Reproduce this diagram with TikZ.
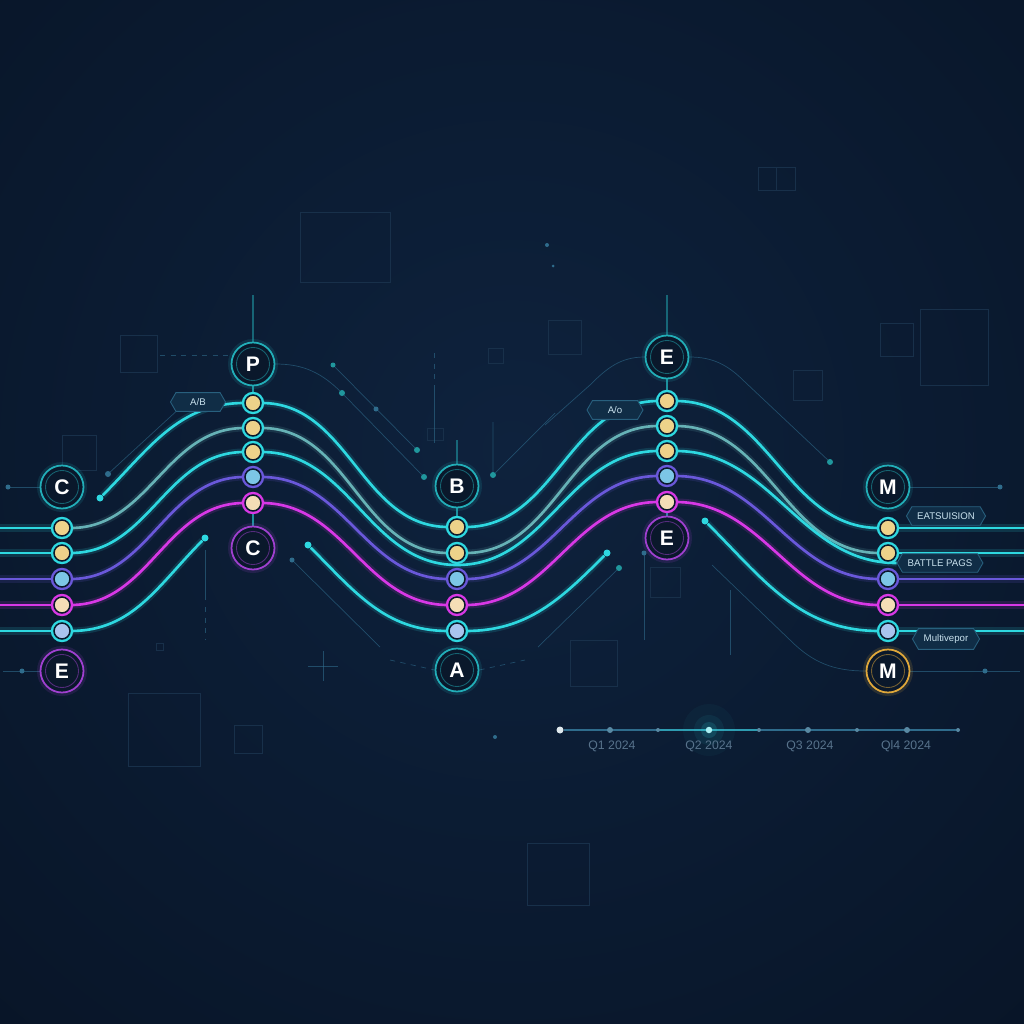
\documentclass[tikz,border=0pt]{standalone}
\usepackage{fontspec}
\setmainfont{Liberation Sans}
\usetikzlibrary{shapes.symbols}

\definecolor{bgin}{HTML}{0E223D}
\definecolor{bgmid}{HTML}{09172B}
\definecolor{bgout}{HTML}{040811}
\definecolor{hubfill}{HTML}{0A182B}
\definecolor{wcyan}{HTML}{2ED8E0}
\definecolor{hcyan}{HTML}{22AEB8}
\definecolor{wteal}{HTML}{66B2B6}
\definecolor{wpurple}{HTML}{6A58DA}
\definecolor{wpink}{HTML}{D838E6}
\definecolor{hpurple}{HTML}{A040D0}
\definecolor{hgold}{HTML}{E0A83A}
\definecolor{syellow}{HTML}{EDD28A}
\definecolor{sblue}{HTML}{7CC6E6}
\definecolor{speach}{HTML}{F4DDB6}
\definecolor{spale}{HTML}{A9C4EE}
\definecolor{deco}{HTML}{18304A}
\definecolor{decoline}{HTML}{2F6C8C}
\definecolor{tagfill}{HTML}{102D46}
\definecolor{tagline}{HTML}{28607E}
\definecolor{tagtext}{HTML}{C9E2EE}
\definecolor{qtext}{HTML}{58738C}

\pgfdeclareradialshading{bgshade}{\pgfpoint{0bp}{0bp}}{color(0bp)=(bgin); color(28bp)=(bgmid); color(65bp)=(bgout)}

\pgfdeclarelayer{bg}
\pgfdeclarelayer{wires}
\pgfsetlayers{bg,wires,main}

\tikzset{
  stn/.style={circle, minimum size=0.32cm, inner sep=0pt, fill=#1, draw=hubfill, line width=0.85pt},
  ring/.style={preaction={draw=#1, line width=3.6pt}},
  hub/.style={circle, minimum size=0.86cm, inner sep=0pt, draw=#1, line width=1pt,
    fill=hubfill, text=white, font=\fontsize{12}{12}\selectfont\bfseries,
    preaction={draw=#1, line width=4pt, opacity=0.15}},
  hubring/.style={draw=#1, line width=0.5pt, opacity=0.5},
  wire/.style={draw=#1, line width=1.5pt, preaction={draw=#1, line width=4pt, opacity=0.15}},
  tipdot/.style={circle, inner sep=0pt, minimum size=0.14cm, fill=wcyan},
  tag/.style={signal, signal to=east and west, signal pointer angle=120, draw=tagline,
    fill=tagfill, text=tagtext, font=\fontsize{5.5}{6}\selectfont, minimum height=0.36cm,
    inner xsep=3pt, line width=0.5pt},
  stem/.style={draw=hcyan, line width=0.6pt, opacity=0.8},
  faint/.style={draw=decoline, line width=0.4pt, opacity=0.6},
  box/.style={draw=deco, line width=0.5pt},
  qdot/.style={circle, inner sep=0pt, minimum size=#1, fill=decoline!80!white},
  qlabel/.style={text=qtext, font=\fontsize{7}{8}\selectfont},
}

\begin{document}
\begin{tikzpicture}[x=0.02cm, y=-0.02cm]

    \useasboundingbox (0,0) rectangle (1024,1024);

    % stations, five columns
    \node[stn=syellow, ring=wcyan]   (c1a) at (62,528) {};
    \node[stn=syellow, ring=wcyan]   (c1b) at (62,553) {};
    \node[stn=sblue, ring=wpurple]   (c1c) at (62,579) {};
    \node[stn=speach, ring=wpink]    (c1d) at (62,605) {};
    \node[stn=spale, ring=wcyan]     (c1e) at (62,631) {};

    \node[stn=syellow, ring=wcyan]   (c2a) at (253,403) {};
    \node[stn=syellow, ring=wcyan]   (c2b) at (253,428) {};
    \node[stn=syellow, ring=wcyan]   (c2c) at (253,452) {};
    \node[stn=sblue, ring=wpurple]   (c2d) at (253,477) {};
    \node[stn=speach, ring=wpink]    (c2e) at (253,503) {};

    \node[stn=syellow, ring=wcyan]   (c3a) at (457,527) {};
    \node[stn=syellow, ring=wcyan]   (c3b) at (457,553) {};
    \node[stn=sblue, ring=wpurple]   (c3c) at (457,579) {};
    \node[stn=speach, ring=wpink]    (c3d) at (457,605) {};
    \node[stn=spale, ring=wcyan]     (c3e) at (457,631) {};

    \node[stn=syellow, ring=wcyan]   (c4a) at (667,401) {};
    \node[stn=syellow, ring=wcyan]   (c4b) at (667,426) {};
    \node[stn=syellow, ring=wcyan]   (c4c) at (667,451) {};
    \node[stn=sblue, ring=wpurple]   (c4d) at (667,476) {};
    \node[stn=speach, ring=wpink]    (c4e) at (667,502) {};

    \node[stn=syellow, ring=wcyan]   (c5a) at (888,528) {};
    \node[stn=syellow, ring=wcyan]   (c5b) at (888,553) {};
    \node[stn=sblue, ring=wpurple]   (c5c) at (888,579) {};
    \node[stn=speach, ring=wpink]    (c5d) at (888,605) {};
    \node[stn=spale, ring=wcyan]     (c5e) at (888,631) {};

    % hubs
    \node[hub=hcyan]   (hC1) at (62,487)  {C};
    \node[hub=hpurple] (hE1) at (62,671)  {E};
    \node[hub=hcyan]   (hP)  at (253,364) {P};
    \node[hub=hpurple] (hC2) at (253,548) {C};
    \node[hub=hcyan]   (hB)  at (457,486) {B};
    \node[hub=hcyan]   (hA)  at (457,670) {A};
    \node[hub=hcyan]   (hE2) at (667,357) {E};
    \node[hub=hpurple] (hE3) at (667,538) {E};
    \node[hub=hcyan]   (hM1) at (888,487) {M};
    \node[hub=hgold]   (hM2) at (888,671) {M};

    \foreach \h/\c in {hC1/hcyan, hE1/hpurple, hP/hcyan, hC2/hpurple, hB/hcyan,
                       hA/hcyan, hE2/hcyan, hE3/hpurple, hM1/hcyan, hM2/hgold}
        \draw[hubring=\c] (\h) circle (16.5);

    % loose ends
    \node[tipdot] (d1) at (100,498) {};
    \node[tipdot] (d2) at (205,538) {};
    \node[tipdot] (d3) at (308,545) {};
    \node[tipdot] (d4) at (607,553) {};
    \node[tipdot] (d5) at (705,521) {};

    % tags
    \node[tag, minimum width=1.1cm]  (tAB) at (198,402) {A/B};
    \node[tag, minimum width=1.12cm] (tAo) at (615,410) {A/o};
    \node[tag, minimum width=1.3cm]  (tEA) at (946,516) {EATSUISION};
    \node[tag, minimum width=1.3cm]  (tBP) at (940,563) {BATTLE PAGS};
    \node[tag, minimum width=1.34cm] (tMV) at (946,639) {Multivepor};

    % timeline
    \node[qdot=0.14cm, fill=white!85!decoline] (t0) at (560,730) {};
    \node[qdot=0.12cm] (t1) at (610,730) {};
    \node[qdot=0.08cm] (t2) at (658,730) {};
    \node[circle, inner sep=0pt, minimum size=0.13cm, fill=wcyan!40!white] (t3) at (709,730) {};
    \node[qdot=0.08cm] (t4) at (759,730) {};
    \node[qdot=0.12cm] (t5) at (808,730) {};
    \node[qdot=0.08cm] (t6) at (857,730) {};
    \node[qdot=0.12cm] (t7) at (907,730) {};
    \node[qdot=0.08cm] (t8) at (958,730) {};
    \node[qlabel] (q1) at (612,746) {Q1 2024};
    \node[qlabel] (q2) at (709,746) {Q2 2024};
    \node[qlabel] (q3) at (810,746) {Q3 2024};
    \node[qlabel] (q4) at (906,746) {Ql4 2024};

    % free ends at the picture edges
    \coordinate (inA) at (0,528);
    \coordinate (inB) at (0,553);
    \coordinate (inC) at (0,579);
    \coordinate (inD) at (0,605);
    \coordinate (inE) at (0,631);
    \coordinate (outA) at (1024,528);
    \coordinate (outB) at (1024,553);
    \coordinate (outC) at (1024,579);
    \coordinate (outD) at (1024,605);
    \coordinate (outE) at (1024,631);
    \coordinate (m1) at (457,565);
    \coordinate (topP) at (253,295);
    \coordinate (topE) at (667,295);
    \coordinate (topB) at (457,440);

    \begin{pgfonlayer}{bg}
        \shade[shading=bgshade] (-80,-140) rectangle (1104,1040);

        \draw[box] (300,212) rectangle (390,282);
        \draw[box] (120,335) rectangle (157,372);
        \draw[box] (62,435) rectangle (96,470);
        \draw[box] (548,320) rectangle (581,354);
        \draw[box] (488,348) rectangle (503,363);
        \draw[box] (758,167) rectangle (795,190);
        \draw[box] (776,167) -- (776,190);
        \draw[box] (920,309) rectangle (988,385);
        \draw[box] (880,323) rectangle (913,356);
        \draw[box] (793,370) rectangle (822,400);
        \draw[box] (128,693) rectangle (200,766);
        \draw[box] (234,725) rectangle (262,753);
        \draw[box] (570,640) rectangle (617,686);
        \draw[box] (527,843) rectangle (589,905);
        \draw[box] (650,567) rectangle (680,597);
        \draw[box] (427,428) rectangle (443,440);
        \draw[box] (156,643) rectangle (163,650);

        \draw[faint] (8,487) -- (hC1.west);
        \draw[faint] (3,671) -- (hE1.west);
        \draw[faint] (hM1.east) -- (1000,487);
        \draw[faint] (hM2.east) -- (1020,671);
        \draw[faint] (108,474) -- (tAB.south west);
        \draw[faint, dashed] (160,355) -- (228,355);
        \draw[faint] (hP.east) to[out=0,in=135] (342,393) -- (424,477);
        \draw[faint] (333,365) -- (417,450);
        \draw[faint, dashed] (434,353) -- (434,380);
        \draw[faint] (434,385) -- (434,443);
        \draw[faint] (205,550) -- (205,600);
        \draw[faint, dashed] (205,607) -- (205,640);
        \draw[faint] (292,560) -- (380,647);
        \draw[faint] (493,422) -- (493,475) -- (555,413);
        \draw[faint] (hE2.west) to[out=180,in=45] (590,385) -- (545,425);
        \draw[faint] (hE2.east) to[out=0,in=135] (745,382) -- (830,462);
        \draw[faint] (644,553) -- (644,640);
        \draw[faint] (619,568) -- (538,647);
        \draw[faint] (730,590) -- (730,655);
        \draw[faint] (712,565) -- (790,640) to[out=-45,in=180] (hM2.west);
        \draw[faint, dashed] (390,660) -- (hA.west);
        \draw[faint, dashed] (hA.east) -- (525,660);
        \draw[faint] (308,666) -- (338,666);
        \draw[faint] (323,651) -- (323,681);

        \fill[decoline] (8,487) circle (2.5);
        \fill[decoline] (22,671) circle (2.5);
        \fill[decoline] (1000,487) circle (2.5);
        \fill[decoline] (985,671) circle (2.5);
        \fill[decoline] (108,474) circle (3);
        \fill[wcyan!70!black] (333,365) circle (2.5);
        \fill[wcyan!70!black] (342,393) circle (3);
        \fill[decoline] (376,409) circle (2.5);
        \fill[wcyan!70!black] (417,450) circle (3);
        \fill[wcyan!70!black] (424,477) circle (3);
        \fill[decoline] (292,560) circle (2.5);
        \fill[wcyan!70!black] (493,475) circle (3);
        \fill[wcyan!70!black] (830,462) circle (3);
        \fill[decoline] (644,553) circle (2.5);
        \fill[wcyan!70!black] (619,568) circle (3);
        \fill[decoline] (547,245) circle (2);
        \fill[decoline] (553,266) circle (1.5);
        \fill[decoline] (495,737) circle (2);
    \end{pgfonlayer}

    \begin{pgfonlayer}{wires}
        % stems
        \draw[stem, opacity=0.5] (topP) -- (hP.north);
        \draw[stem] (hP.south) -- (c2a.north);
        \draw[stem] (c2e.south) -- (hC2.north);
        \draw[stem, opacity=0.5] (topB) -- (hB.north);
        \draw[stem] (hB.south) -- (c3a.north);
        \draw[stem, opacity=0.5] (topE) -- (hE2.north);
        \draw[stem] (hE2.south) -- (c4a.north);
        \draw[stem] (c4e.south) -- (hE3.north);

        % run-in
        \draw[wire=wcyan]   (inA) -- (c1a);
        \draw[wire=wcyan]   (inB) -- (c1b);
        \draw[wire=wpurple] (inC) -- (c1c);
        \draw[wire=wpink]   (inD) -- (c1d);
        \draw[wire=wcyan]   (inE) -- (c1e);

        % first rise
        \draw[wire=wcyan]   (d1)  to[out=45,in=180] (c2a);
        \draw[wire=wteal]   (c1a) to[out=0,in=180] (c2b);
        \draw[wire=wcyan]   (c1b) to[out=0,in=180] (c2c);
        \draw[wire=wpurple] (c1c) to[out=0,in=180] (c2d);
        \draw[wire=wpink]   (c1d) to[out=0,in=180] (c2e);
        \draw[wire=wcyan]   (c1e) to[out=0,in=225] (d2);

        % first fall
        \draw[wire=wcyan]   (c2a) to[out=0,in=180] (c3a);
        \draw[wire=wteal]   (c2b) to[out=0,in=180] (c3b);
        \draw[wire=wcyan]   (c2c) to[out=0,in=180] (m1);
        \draw[wire=wpurple] (c2d) to[out=0,in=180] (c3c);
        \draw[wire=wpink]   (c2e) to[out=0,in=180] (c3d);
        \draw[wire=wcyan]   (d3)  to[out=-45,in=180] (c3e);

        % second rise
        \draw[wire=wcyan]   (c3a) to[out=0,in=180] (c4a);
        \draw[wire=wteal]   (c3b) to[out=0,in=180] (c4b);
        \draw[wire=wcyan]   (m1)  to[out=0,in=180] (c4c);
        \draw[wire=wpurple] (c3c) to[out=0,in=180] (c4d);
        \draw[wire=wpink]   (c3d) to[out=0,in=180] (c4e);
        \draw[wire=wcyan]   (c3e) to[out=0,in=225] (d4);

        % second fall
        \draw[wire=wcyan]   (c4a) to[out=0,in=180] (c5a);
        \draw[wire=wteal]   (c4b) to[out=0,in=180] (c5b);
        \draw[wire=wcyan]   (c4c) to[out=0,in=180] (tBP.west);
        \draw[wire=wpurple] (c4d) to[out=0,in=180] (c5c);
        \draw[wire=wpink]   (c4e) to[out=0,in=180] (c5d);
        \draw[wire=wcyan]   (d5)  to[out=-45,in=180] (c5e);

        % run-out
        \draw[wire=wcyan]   (c5a) -- (outA);
        \draw[wire=wcyan]   (c5b) -- (outB);
        \draw[wire=wpurple] (c5c) -- (outC);
        \draw[wire=wpink]   (c5d) -- (outD);
        \draw[wire=wcyan]   (c5e) -- (outE);

        % timeline
        \draw[decoline, line width=0.6pt] (t0) -- (t8);
        \draw[wcyan, line width=0.9pt, opacity=0.45] (t2) -- (t4);
        \fill[wcyan, opacity=0.04] (t3) circle (26);
        \fill[wcyan, opacity=0.07] (t3) circle (15);
        \fill[wcyan, opacity=0.15] (t3) circle (8);
    \end{pgfonlayer}

\end{tikzpicture}
\end{document}
